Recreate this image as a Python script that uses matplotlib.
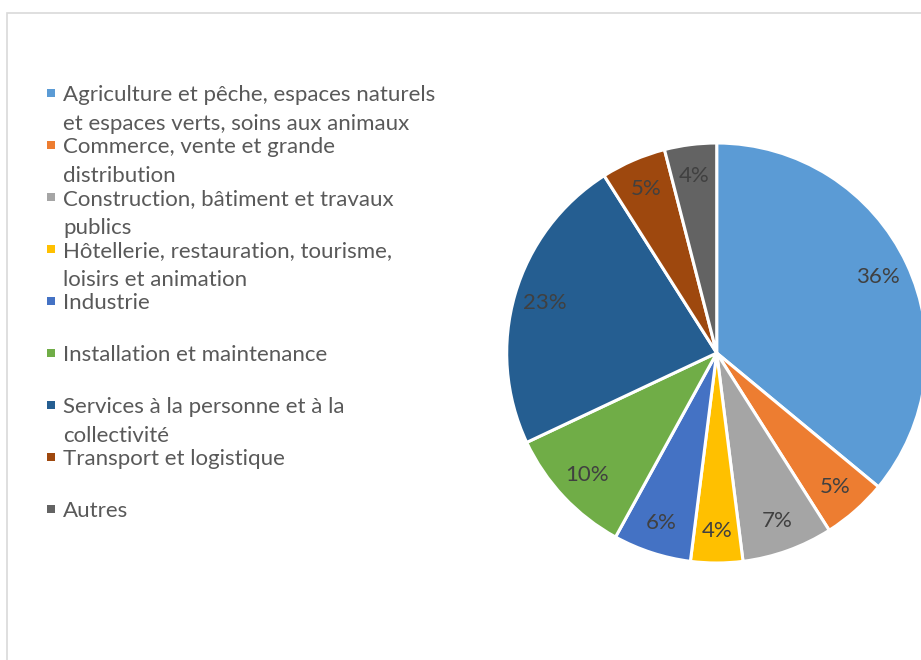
import matplotlib.pyplot as plt
from matplotlib.patches import Rectangle

categories = [
    "Agriculture et pêche, espaces naturels\net espaces verts, soins aux animaux",
    "Commerce, vente et grande\ndistribution",
    "Construction, bâtiment et travaux\npublics",
    "Hôtellerie, restauration, tourisme,\nloisirs et animation",
    "Industrie",
    "Installation et maintenance",
    "Services à la personne et à la\ncollectivité",
    "Transport et logistique",
    "Autres",
]
values = [36, 5, 7, 4, 6, 10, 23, 5, 4]
colors = ["#5B9BD5", "#ED7D31", "#A5A5A5", "#FFC000", "#4472C4",
          "#70AD47", "#255E91", "#9E480E", "#636363"]

W, H = 921, 660
plt.rcParams['font.family'] = ['Lato', 'DejaVu Sans']
fig = plt.figure(figsize=(W / 100, H / 100), dpi=100)

# cadre gris clair
fig.patches.append(Rectangle((7 / W, -0.1), 1.2, (H - 13) / H + 0.1,
                             transform=fig.transFigure, fill=False,
                             edgecolor="#D9D9D9", linewidth=1.2))

# camembert
cx, cy, r = 716.7, H - 353, 210
ax = fig.add_axes([(cx - r) / W, (cy - r) / H, 2 * r / W, 2 * r / H])
wedges, texts, autotexts = ax.pie(
    values, colors=colors, startangle=90, counterclock=False,
    radius=1, autopct=lambda p: f"{p:.0f}%", pctdistance=0.85,
    wedgeprops=dict(edgecolor="white", linewidth=2.2),
    textprops=dict(color="#404040", fontsize=16))
ax.set_xlim(-1, 1)
ax.set_ylim(-1, 1)
ax.set_aspect("equal")
ax.axis("off")

# légende (style Excel : une case de 52 px par entrée)
for i, (lab, col) in enumerate(zip(categories, colors)):
    y = 94 + 52 * i
    fig.patches.append(Rectangle((47 / W, (H - y - 3) / H), 8 / W, 8 / H,
                                 transform=fig.transFigure, facecolor=col,
                                 edgecolor="none"))
    for k, line in enumerate(lab.split("\n")):
        fig.text(63 / W, (H - y - 1 - 29 * k) / H, line, fontsize=16,
                 color="#595959", va="center", ha="left")

fig.savefig("out.png", dpi=100)
